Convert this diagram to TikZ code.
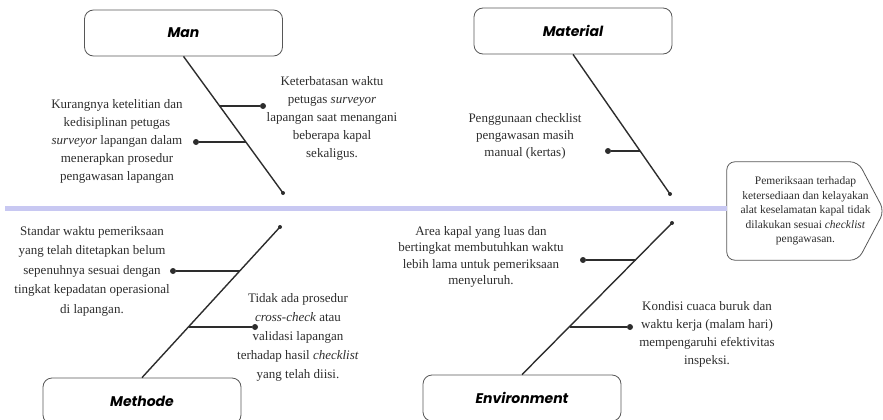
\documentclass[tikz,border=0pt]{standalone}
\usepackage{fontspec}
\setmainfont{Liberation Serif}
\newfontfamily\catfont{Poppins}
\usetikzlibrary{calc}
\definecolor{spinecol}{RGB}{200,200,242}
\definecolor{inkgray}{RGB}{45,45,45}
\tikzset{
  catbox/.style={draw=inkgray!80, line width=0.8pt, rounded corners=9pt,
    minimum width=198pt, minimum height=46pt,
    font=\catfont\bfseries\itshape\fontsize{14}{16}\selectfont},
  cause/.style={align=center, text=inkgray, font=\fontsize{13}{18}\selectfont},
  bone/.style={inkgray, line width=1.4pt},
  twig/.style={inkgray, line width=1.8pt},
  tip/.style={circle, fill=inkgray, inner sep=0pt, minimum size=6pt},
  endtip/.style={circle, fill=inkgray, inner sep=0pt, minimum size=4pt},
}
\begin{document}
\begin{tikzpicture}[x=1pt,y=-1pt]
  \useasboundingbox (0,0) rectangle (883,420);

  % effect head and spine
  \node[align=center, text=inkgray, font=\fontsize{11.5}{14.5}\selectfont,
        minimum width=157pt, minimum height=98pt, inner sep=0pt] (effect) at (805.5,211)
    {Pemeriksaan terhadap\\ ketersediaan dan kelayakan\\ alat keselamatan kapal tidak\\
     dilakukan sesuai \textit{checklist}\\ pengawasan.};
  \draw[inkgray!80, line width=0.8pt, rounded corners=8pt]
    (effect.north west) -- ([xshift=-26pt]effect.north east) -- (effect.east)
    -- ([xshift=-26pt]effect.south east) -- (effect.south west) -- cycle;
  \coordinate (tail) at (5,208);
  \draw[spinecol, line width=5pt] (tail) -- (effect.west |- tail);

  % category boxes
  \node[catbox] (man) at (183.5,33) {Man};
  \node[catbox] (mat) at (573,31) {Material};
  \node[catbox] (meth) at (142,401) {Methode};
  \node[catbox] (env) at (522,398) {Environment};

  % bones
  \node[endtip] (manEnd) at (283,193) {};
  \node[endtip] (matEnd) at (670,194) {};
  \node[endtip] (methEnd) at (280,227) {};
  \node[endtip] (envEnd) at (672,223) {};
  \draw[bone] (man.south) -- (manEnd.center);
  \draw[bone] (mat.south) -- (matEnd.center);
  \draw[bone] (meth.north) -- (methEnd.center);
  \draw[bone] (env.north) -- (envEnd.center);

  % Man
  \node[tip] (m1) at (263,106) {};
  \node[tip] (m2) at (196,142) {};
  \coordinate (mb1) at ($(man.south)!0.36!(manEnd)$);
  \coordinate (mb2) at ($(man.south)!0.63!(manEnd)$);
  \draw[twig] (mb1 |- m1) -- (m1);
  \draw[twig] (mb2 |- m2) -- (m2);
  \node[cause] (m2txt) at (117,141)
    {Kurangnya ketelitian dan\\ kedisiplinan petugas\\ \textit{surveyor} lapangan dalam\\
     menerapkan prosedur\\ pengawasan lapangan};
  \node[cause] (m1txt) at (332,118)
    {Keterbatasan waktu\\ petugas \textit{surveyor}\\ lapangan saat menangani\\
     beberapa kapal\\ sekaligus.};

  % Material
  \node[tip] (t1) at (608,151) {};
  \coordinate (tb1) at ($(mat.south)!0.69!(matEnd)$);
  \draw[twig] (tb1 |- t1) -- (t1);
  \node[cause, font=\fontsize{13}{17}\selectfont] (t1txt) at (525,136)
    {Penggunaan checklist\\ pengawasan masih\\ manual (kertas)};

  % Methode
  \node[tip] (d1) at (173,271) {};
  \node[tip] (d2) at (255,327) {};
  \coordinate (db1) at ($(methEnd)!0.29!(meth.north)$);
  \coordinate (db2) at ($(methEnd)!0.66!(meth.north)$);
  \draw[twig] (db1 |- d1) -- (d1);
  \draw[twig] (db2 |- d2) -- (d2);
  \node[cause, font=\fontsize{13}{19.5}\selectfont] (d1txt) at (92,271)
    {Standar waktu pemeriksaan\\ yang telah ditetapkan belum\\ sepenuhnya sesuai dengan\\
     tingkat kepadatan operasional\\ di lapangan.};
  \node[cause, font=\fontsize{13}{19}\selectfont] (d2txt) at (298,337)
    {Tidak ada prosedur\\ \textit{cross-check} atau\\ validasi lapangan\\
     terhadap hasil \textit{checklist}\\ yang telah diisi.};

  % Environment
  \node[tip] (e1) at (583,260) {};
  \node[tip] (e2) at (630,327) {};
  \coordinate (eb1) at ($(envEnd)!0.24!(env.north)$);
  \coordinate (eb2) at ($(envEnd)!0.68!(env.north)$);
  \draw[twig] (eb1 |- e1) -- (e1);
  \draw[twig] (eb2 |- e2) -- (e2);
  \node[cause, font=\fontsize{13}{16.5}\selectfont] (e1txt) at (481,257)
    {Area kapal yang luas dan\\ bertingkat membutuhkan waktu\\ lebih lama untuk pemeriksaan\\
     menyeluruh.};
  \node[cause] (e2txt) at (707,334)
    {Kondisi cuaca buruk dan\\ waktu kerja (malam hari)\\ mempengaruhi efektivitas\\
     inspeksi.};
\end{tikzpicture}
\end{document}
